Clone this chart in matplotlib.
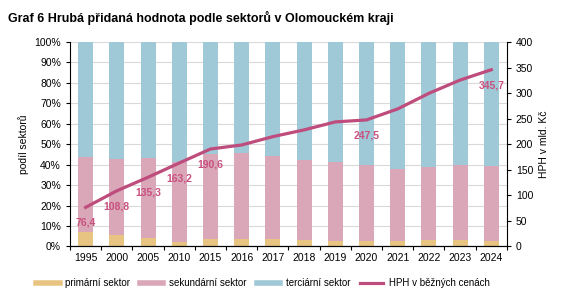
import matplotlib.pyplot as plt
import numpy as np
from matplotlib.lines import Line2D

plt.rcParams['font.family'] = ['Liberation Sans', 'DejaVu Sans']

# Data
years = ["1995", "2000", "2005", "2010", "2015", "2016", "2017",
         "2018", "2019", "2020", "2021", "2022", "2023", "2024"]
primarni = [7.0, 5.5, 4.3, 2.1, 3.6, 3.6, 3.4, 3.1, 2.8, 2.6, 2.5, 3.1, 3.1, 2.5]
sekundarni = [36.8, 37.3, 39.0, 39.2, 41.6, 42.0, 40.6, 39.4, 38.7, 37.1, 35.6, 35.6, 36.8, 36.9]
hph = [76.4, 108.8, 135.3, 163.2, 190.6, 198.5, 214.8, 228.0, 243.6, 247.5,
       269.0, 299.5, 325.5, 345.7]
labeled = ["1995", "2000", "2005", "2010", "2015", "2020", "2024"]

primarni = np.array(primarni)
sekundarni = np.array(sekundarni)
terciarni = 100 - primarni - sekundarni

c_prim = "#E8C483"
c_sek = "#D9A7B7"
c_ter = "#9FC9D7"
c_line = "#BE4C7C"
c_lab = "#C9507F"

fig = plt.figure(figsize=(5.67, 3.02), dpi=100)
ax = fig.add_axes([0.1235, 0.184, 0.7705, 0.677])
x = np.arange(len(years))
w = 0.48

ax.bar(x, primarni, w, color=c_prim, zorder=2)
ax.bar(x, sekundarni, w, bottom=primarni, color=c_sek, zorder=2)
ax.bar(x, terciarni, w, bottom=primarni + sekundarni, color=c_ter, zorder=2)

ax.set_ylim(0, 100)
ax.set_xlim(-0.5, len(years) - 0.5)
ax.set_yticks(np.arange(0, 101, 10))
ax.set_yticklabels([f"{v}%" for v in range(0, 101, 10)], fontsize=7.5)
ax.yaxis.grid(True, color="#D9D9D9", linewidth=0.8, zorder=0)
ax.set_axisbelow(True)
ax.set_ylabel("podíl sektorů", fontsize=7.5)
ax.set_xticks(x)
ax.set_xticklabels(years, fontsize=7.5)
ax.set_xticks(np.arange(-0.5, len(years), 1), minor=True)
ax.tick_params(axis="x", which="major", length=0, pad=5)
ax.tick_params(axis="x", which="minor", length=3, width=0.8)
ax.tick_params(axis="y", length=3, width=0.8)
for s in ["top", "right"]:
    ax.spines[s].set_visible(False)

ax2 = ax.twinx()
ax2.plot(x, hph, color=c_line, linewidth=2.3, zorder=5)
ax2.set_ylim(0, 400)
ax2.set_yticks(np.arange(0, 401, 50))
ax2.tick_params(axis="y", labelsize=7.5, length=3, width=0.8)
ax2.set_ylabel("HPH v mld. Kč", fontsize=7.5)
ax2.spines["top"].set_visible(False)
ax2.spines["left"].set_visible(False)

for i, (yr, v) in enumerate(zip(years, hph)):
    if yr in labeled:
        ax2.text(i, v - 30, f"{v:.1f}".replace(".", ","), color=c_lab,
                 fontsize=7.5, fontweight="bold", ha="center", va="center")

labels = ["primární sektor", "sekundární sektor", "terciární sektor", "HPH v běžných cenách"]
handles = [Line2D([], [], color=c_prim, linewidth=4),
           Line2D([], [], color=c_sek, linewidth=4),
           Line2D([], [], color=c_ter, linewidth=4),
           Line2D([], [], color=c_line, linewidth=2.3)]
fig.legend(handles, labels, loc="center", bbox_to_anchor=(0.464, 0.063), ncol=4,
           frameon=False, fontsize=7, handlelength=2.4, handletextpad=0.6,
           columnspacing=1.0)

fig.text(0.014, 0.94, "Graf 6 Hrubá přidaná hodnota podle sektorů v Olomouckém kraji",
         fontsize=9, fontweight="bold", va="center")

plt.savefig("out.png", dpi=100)
